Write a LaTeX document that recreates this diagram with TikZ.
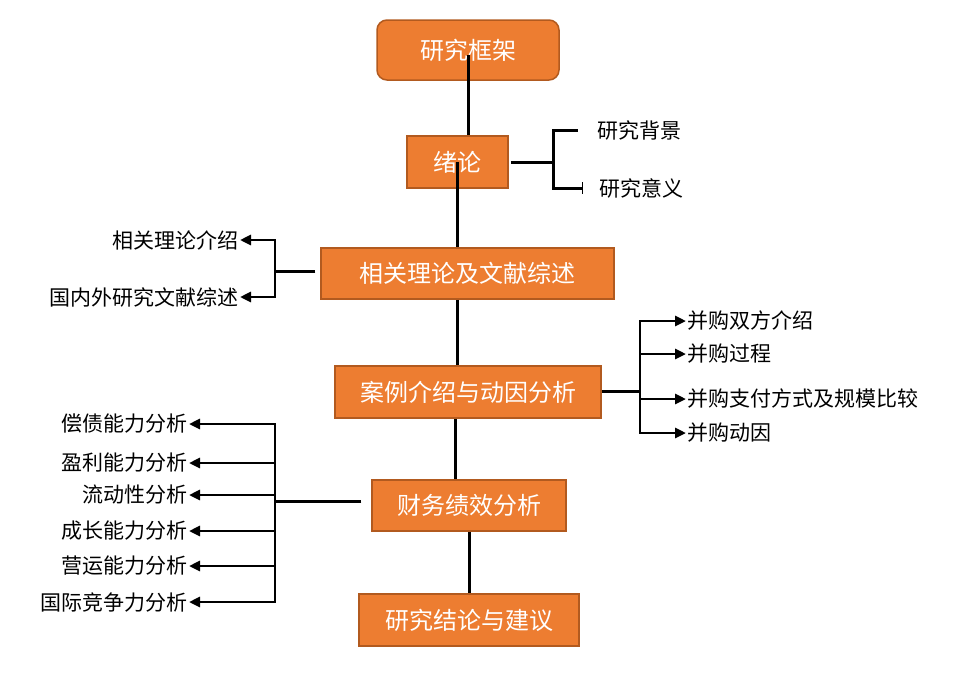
\documentclass[tikz,border=0pt]{standalone}
\usepackage{fontspec}
\setmainfont{Noto Sans CJK SC}
\usetikzlibrary{arrows.meta}

\definecolor{boxfill}{HTML}{ED7D31}
\definecolor{boxedge}{HTML}{B25A1F}

\tikzset{
  stage/.style={draw=boxedge, fill=boxfill, line width=1.5pt, text=white,
    font=\fontsize{24}{27}\selectfont, inner sep=0pt},
  leaf/.style={font=\fontsize{21}{23}\selectfont, inner sep=1pt},
  trunk/.style={line width=3pt},
  branch/.style={line width=2.8pt, -{Triangle[length=11pt,width=10pt]}},
}

\begin{document}
\begin{tikzpicture}[x=1pt,y=-1pt]
    \useasboundingbox (0,0) rectangle (969,673);

    % main stages
    \node[stage, rounded corners=10pt, minimum width=182pt, minimum height=60pt] (kuangjia) at (468,50) {研究框架};
    \node[stage, minimum width=101pt, minimum height=52pt] (xulun) at (457.5,162) {绪论};
    \node[stage, minimum width=293pt, minimum height=51pt] (xiangguan) at (467.5,273.5) {相关理论及文献综述};
    \node[stage, minimum width=266pt, minimum height=52pt] (anli) at (468,392) {案例介绍与动因分析};
    \node[stage, minimum width=194pt, minimum height=51pt] (caiwu) at (469,505.5) {财务绩效分析};
    \node[stage, minimum width=220pt, minimum height=52pt] (jielun) at (469,620) {研究结论与建议};

    % trunk
    \draw[trunk] ([yshift=-5pt]kuangjia.center) -- (kuangjia.center |- xulun.north);
    \draw[trunk] (xulun.center) -- (xulun.center |- xiangguan.north);
    \draw[trunk] (xulun.center |- xiangguan.south) -- (xulun.center |- anli.north);
    \draw[trunk] ([xshift=-13pt]anli.south) -- ([xshift=-14pt]caiwu.north);
    \draw[trunk] (caiwu.south) -- (jielun.north);

    % 绪论
    \node[leaf, anchor=west] (beijing) at (596,130) {研究背景};
    \node[leaf, anchor=west] (yiyi) at (598,188) {研究意义};
    \coordinate (xbar) at (553,162);
    \draw[trunk] ([xshift=2pt]xulun.east) -- (xbar);
    \draw[trunk] (xbar) |- ([xshift=-18pt]beijing.west);
    \draw[trunk, -{Bar[width=12pt, line width=1pt]}] (xbar) |- ([xshift=-15pt]yiyi.west);

    % 相关理论及文献综述
    \coordinate (lbar) at (275,271);
    \draw[trunk] ([xshift=-5pt]xiangguan.west |- lbar) -- (lbar);
    \foreach \i/\y/\txt in {1/240/相关理论介绍, 2/297/国内外研究文献综述} {
        \node[leaf, anchor=east] (lit\i) at (240,\y) {\txt};
        \draw[branch] (lbar) |- (lit\i.east);
    }

    % 案例介绍与动因分析
    \coordinate (rbar) at (640,391);
    \draw[trunk] (anli.east |- rbar) -- (rbar);
    \foreach \i/\y/\txt in {1/321/并购双方介绍, 2/354/并购过程, 3/399/并购支付方式及规模比较, 4/433/并购动因} {
        \node[leaf, anchor=west] (case\i) at (686,\y) {\txt};
        \draw[branch] (rbar) |- (case\i.west);
    }

    % 财务绩效分析
    \coordinate (fbar) at (275,501);
    \draw[trunk] ([xshift=-10pt]caiwu.west |- fbar) -- (fbar);
    \foreach \i/\y/\txt in {1/424/偿债能力分析, 2/463/盈利能力分析, 3/495/流动性分析, 4/531/成长能力分析, 5/566/营运能力分析, 6/602/国际竞争力分析} {
        \node[leaf, anchor=east] (fin\i) at (189,\y) {\txt};
        \draw[branch] (fbar) |- (fin\i.east);
    }
\end{tikzpicture}
\end{document}
